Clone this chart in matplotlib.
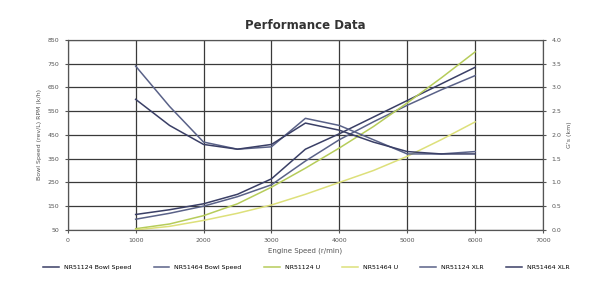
import numpy as np
import matplotlib
matplotlib.use('Agg')
import matplotlib.pyplot as plt

# Дані
speed = [1000, 1500, 2000, 2500, 3000, 3500, 4000, 4500, 5000, 5500, 6000]
bowl_124 = [115, 135, 160, 200, 265, 390, 455, 525, 595, 665, 735]
bowl_464 = [95, 120, 150, 190, 240, 340, 430, 505, 575, 640, 700]
u_124 = [55, 75, 110, 160, 230, 310, 395, 485, 585, 690, 800]
u_464 = [50, 65, 90, 120, 155, 200, 250, 300, 360, 430, 505]
g_124 = [3.45, 2.6, 1.85, 1.7, 1.75, 2.35, 2.2, 1.9, 1.6, 1.6, 1.65]
g_464 = [2.75, 2.2, 1.8, 1.7, 1.8, 2.25, 2.1, 1.85, 1.65, 1.6, 1.6]

x_ticks = [0, 1000, 2000, 3000, 4000, 5000, 6000, 7000]
left_ticks = [50, 150, 250, 350, 450, 550, 650, 750, 850]
right_ticks = [0.0, 0.5, 1.0, 1.5, 2.0, 2.5, 3.0, 3.5, 4.0]

fig = plt.figure(figsize=(5.89, 2.94), dpi=100)
ax = fig.add_axes([0.115, 0.218, 0.807, 0.646])
ax2 = ax.twinx()

navy = '#3a3f66'
slate = '#5a6288'
green = '#b6cc5a'
yellow = '#dde07a'

l1, = ax.plot(speed, bowl_124, color=navy, lw=1.1, label='NR51124 Bowl Speed')
l2, = ax.plot(speed, bowl_464, color=slate, lw=1.1, label='NR51464 Bowl Speed')
l3, = ax.plot(speed, u_124, color=green, lw=1.1, label='NR51124 U')
l4, = ax.plot(speed, u_464, color=yellow, lw=1.1, label='NR51464 U')
l5, = ax2.plot(speed, g_124, color=slate, lw=1.1, label='NR51124 XLR')
l6, = ax2.plot(speed, g_464, color=navy, lw=1.1, label='NR51464 XLR')

ax.set_xlim(0, 7000)
ax.set_ylim(50, 850)
ax2.set_ylim(0, 4)
ax.set_xticks(x_ticks)
ax.set_yticks(left_ticks)
ax2.set_yticks(right_ticks)
ax2.set_yticklabels([f'{v:.1f}' for v in right_ticks])

ax.grid(True, color='#3a3a3a', lw=0.9)
for a in (ax, ax2):
    a.tick_params(labelsize=4.5, colors='#555555', length=2, pad=4)
    for s in a.spines.values():
        s.set_color('#555555')

ax.set_xlabel('Engine Speed (r/min)', fontsize=5, color='#555555', labelpad=3)
ax.set_ylabel('Bowl Speed (rev/L) RPM (k/h)', fontsize=4.5, color='#555555')
ax2.set_ylabel("G's (km)", fontsize=4.5, color='#555555')
ax.set_title('Performance Data', fontsize=8.5, fontweight='bold', color='#333333', pad=8)

fig.legend(handles=[l1, l2, l3, l4, l5, l6], loc='center', bbox_to_anchor=(0.52, 0.09),
           ncol=6, fontsize=4.5, frameon=False, handlelength=2.5, columnspacing=3.6)

fig.savefig('out.png', dpi=100)
